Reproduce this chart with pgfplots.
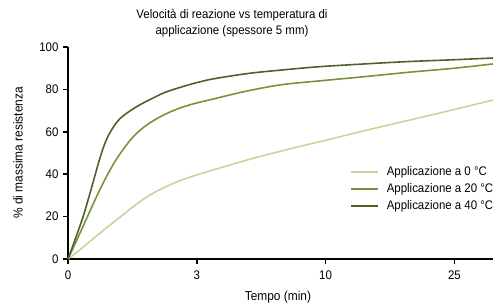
\documentclass[border=0pt]{standalone}
\usepackage{fontspec}
\setmainfont{Liberation Sans}[FakeStretch=0.92]
\usepackage{pgfplots}
\pgfplotsset{compat=1.18}
\definecolor{c0}{HTML}{C3D69B}
\definecolor{c20}{HTML}{77933C}
\definecolor{c40}{HTML}{4F6228}
\begin{document}
\begin{tikzpicture}[x=1bp,y=1bp]
\useasboundingbox (0,0) rectangle (493,306);
\clip (0,0) rectangle (493,306);
\node[align=center, font=\fontsize{12.5}{16}\selectfont] at (232,283) {Velocità di reazione vs temperatura di\\applicazione (spessore 5 mm)};
\begin{axis}[
  at={(68bp,47bp)}, anchor=south west,
  scale only axis, width=425bp, height=212bp,
  xmin=0, xmax=3.3, ymin=0, ymax=100,
  axis lines*=left,
  axis line style={line width=1.5bp},
  every tick/.style={line width=1.5bp, black},
  major tick length=5bp,
  tick align=outside,
  xtick={0,1,2,3}, xticklabels={0,3,10,25},
  ytick={0,20,40,60,80,100},
  /pgf/number format/assume math mode=true,
  tick label style={font=\fontsize{12.5}{14}\selectfont},
  xticklabel style={yshift=-3bp},
  yticklabel style={xshift=-1bp},
  xlabel={Tempo (min)},
  ylabel={\% di massima resistenza},
  every axis x label/.style={at={(axis description cs:0.494,-0.179)}, anchor=center, font=\fontsize{13}{14}\selectfont},
  every axis y label/.style={at={(axis description cs:-0.1176,0.5)}, anchor=center, rotate=90, font=\fontsize{13}{14}\selectfont},
  legend style={at={(axis description cs:0.6635,0.4387)}, anchor=north west, draw=none, fill=none,
    font=\fontsize{12.5}{14}\selectfont, row sep=5bp, inner sep=0pt,
    nodes={inner sep=0pt, text height=9bp, text depth=3bp}},
  legend cell align=left,
  legend image code/.code={\draw[#1] (0bp,0bp) -- (27bp,0bp);},
  /tikz/every odd column/.style={column sep=8bp},
  clip=false,
]
\addplot[c0, line width=1.6bp, smooth, tension=0.6] coordinates {
(0,0) (0.1,4.7) (0.2,9.8) (0.3,14.8) (0.42,20.5) (0.53,25.8) (0.64,30.3) (0.75,33.8) (0.88,37.2) (1.05,40.6) (1.25,44.2) (1.45,47.7) (1.7,51.6) (2.0,56) (2.3,60.5) (2.6,64.8) (2.95,69.8) (3.3,75)};
\addlegendentry{Applicazione a 0 °C}
\addplot[c20, line width=1.6bp, smooth, tension=0.6] coordinates {
(0,0) (0.08,10.5) (0.155,20.5) (0.23,30.5) (0.30,39) (0.37,46.5) (0.45,53.5) (0.52,58.5) (0.60,62.7) (0.69,66.2) (0.81,69.8) (0.95,72.8) (1.15,75.8) (1.41,79.5) (1.67,82.3) (1.95,84) (2.3,86) (2.63,88) (3.0,90) (3.3,92)};
\addlegendentry{Applicazione a 20 °C}
\addplot[c40, line width=1.6bp, smooth, tension=0.6] coordinates {
(0,0) (0.06,10) (0.12,20.5) (0.18,33) (0.25,48) (0.30,56.5) (0.35,62) (0.40,66) (0.48,69.8) (0.56,72.8) (0.64,75.3) (0.75,78.5) (0.89,81.3) (1.02,83.5) (1.15,85.2) (1.41,87.6) (1.67,89.2) (1.95,90.7) (2.3,92) (2.63,93.1) (3.0,94) (3.3,94.8)};
\addlegendentry{Applicazione a 40 °C}
\end{axis}
\end{tikzpicture}
\end{document}
